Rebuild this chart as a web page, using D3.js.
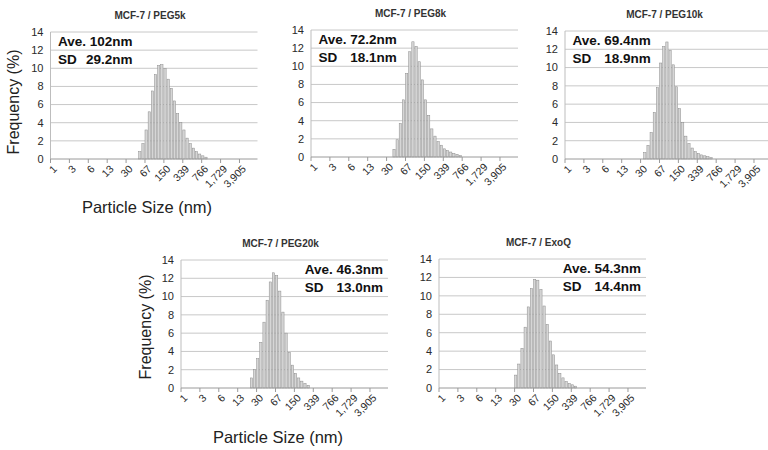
<!DOCTYPE html>
<html>
<head>
<meta charset="utf-8">
<script src="https://cdn.jsdelivr.net/npm/d3@7"></script>
<style>
  body { margin: 0; background: #fff; }
  svg { font-family: Arial, "Liberation Sans", sans-serif; }
</style>
</head>
<body>
<div id="chart"></div>
<script>
// size bins on a log scale, a label every 6th bin
const binCount = 66;
const tickEvery = 6;
const tickLabels = ["1", "3", "6", "13", "30", "67", "150", "339", "766", "1,729", "3,905"];

const titles = ["MCF-7 / PEG5k", "MCF-7 / PEG8k", "MCF-7 / PEG10k", "MCF-7 / PEG20k", "MCF-7 / ExoQ"];
const aveLabels = ["Ave. 102nm", "Ave. 72.2nm", "Ave. 69.4nm", "Ave. 46.3nm", "Ave. 54.3nm"];
const sdLabels = ["29.2nm", "18.1nm", "18.9nm", "13.0nm", "14.4nm"];

// first non-empty bin of each histogram
const firstBin = [28, 26, 25, 22, 24];

const peg5k = [0.8, 1.7, 3.2, 5.2, 7.5, 9.3, 10.3, 10.4, 10.0, 8.8, 7.8, 6.4, 5.0, 4.0, 3.2, 2.3, 1.7, 1.2, 0.8, 0.55, 0.35, 0.2];
const peg8k = [0.85, 1.9, 3.7, 6.3, 9.2, 11.6, 12.7, 12.2, 10.5, 8.5, 6.3, 4.6, 3.1, 2.3, 1.7, 1.3, 0.9, 0.7, 0.55, 0.4, 0.3, 0.15];
const peg10k = [0.7, 1.5, 2.9, 5.1, 7.8, 10.5, 12.3, 12.8, 11.9, 10.3, 7.9, 5.5, 4.0, 2.5, 1.7, 1.2, 0.8, 0.6, 0.45, 0.35, 0.25, 0.15];
const peg20k = [1.1, 2.0, 3.2, 5.0, 7.2, 9.6, 11.6, 12.6, 12.3, 10.6, 8.3, 6.0, 3.9, 2.5, 1.6, 1.1, 0.75, 0.5, 0.3];
const exoQ = [1.4, 2.6, 4.3, 6.6, 8.8, 10.8, 11.8, 11.7, 10.7, 8.9, 6.9, 5.1, 3.6, 2.5, 1.6, 1.1, 0.7, 0.5, 0.35, 0.2];

const series = [peg5k, peg8k, peg10k, peg20k, exoQ];
const yTicks = [0, 2, 4, 6, 8, 10, 12, 14];

// panel placement
const panels = [
  { x0: 50.5, top: 32, bottom: 159, align: "left" },
  { x0: 311, top: 30, bottom: 157, align: "left" },
  { x0: 565, top: 31, bottom: 159, align: "left" },
  { x0: 181, top: 260, bottom: 388, align: "right" },
  { x0: 439, top: 259, bottom: 388, align: "right" },
];
const plotWidth = 207;

const svg = d3.select("#chart").append("svg")
  .attr("width", 768).attr("height", 450);

const bins = d3.range(binCount);

panels.forEach((p, k) => {
  const x = d3.scaleBand().domain(bins).range([p.x0, p.x0 + plotWidth]).paddingInner(0.28);
  const y = d3.scaleLinear().domain([0, 14]).range([p.bottom, p.top]);
  const g = svg.append("g");

  // gridlines
  g.selectAll(".grid").data(yTicks.slice(1)).join("line")
    .attr("x1", p.x0).attr("x2", p.x0 + plotWidth)
    .attr("y1", d => y(d)).attr("y2", d => y(d))
    .attr("stroke", "#c8c8c8").attr("stroke-width", 1);

  // y axis
  g.append("line")
    .attr("x1", p.x0).attr("x2", p.x0)
    .attr("y1", y(14)).attr("y2", y(0))
    .attr("stroke", "#bdbdbd");
  g.selectAll(".ylab").data(yTicks).join("text")
    .attr("x", p.x0 - 7).attr("y", d => y(d))
    .attr("dy", "0.35em")
    .attr("text-anchor", "end")
    .style("font-size", "11px").attr("fill", "#2a2a2a")
    .text(d => d);

  // bars
  const vals = series[k].map((v, i) => ({ bin: firstBin[k] + i, v: v }));
  g.selectAll(".bar").data(vals).join("rect")
    .attr("x", d => x(d.bin))
    .attr("width", x.bandwidth())
    .attr("y", d => y(d.v))
    .attr("height", d => y(0) - y(d.v))
    .attr("fill", "#d6d6d6")
    .attr("stroke", "#8c8c8c").attr("stroke-width", 0.5);

  // x axis
  g.append("line")
    .attr("x1", p.x0).attr("x2", p.x0 + plotWidth)
    .attr("y1", y(0)).attr("y2", y(0))
    .attr("stroke", "#9a9a9a");
  const step = x.step();
  g.selectAll(".tick").data(tickLabels).join("line")
    .attr("x1", (d, i) => p.x0 + i * tickEvery * step)
    .attr("x2", (d, i) => p.x0 + i * tickEvery * step)
    .attr("y1", y(0)).attr("y2", y(0) + 4)
    .attr("stroke", "#9a9a9a");
  g.selectAll(".xlab").data(tickLabels).join("text")
    .attr("transform", (d, i) => {
      const cx = p.x0 + (i * tickEvery + 0.5) * step;
      return `translate(${cx + 3},${y(0) + 8}) rotate(-45)`;
    })
    .attr("dy", "0.35em")
    .attr("text-anchor", "end")
    .style("font-size", "10.5px").attr("fill", "#2a2a2a")
    .text(d => d);

  // title
  g.append("text")
    .attr("x", p.x0 + plotWidth / 2 - 4)
    .attr("y", p.top - 13)
    .attr("text-anchor", "middle")
    .style("font-size", "10px").style("font-weight", "bold")
    .attr("fill", "#333")
    .text(titles[k]);

  // mean / SD annotation
  const ann = g.append("g").style("font-size", "13.5px").style("font-weight", "bold").attr("fill", "#111");
  const ave = ann.append("text").attr("y", p.top + 13.5).text(aveLabels[k]);
  const w = ave.node().getComputedTextLength();
  const left = p.align === "left" ? p.x0 + 7.5 : p.x0 + plotWidth - 5 - w;
  ave.attr("x", left);
  ann.append("text").attr("x", left).attr("y", p.top + 31.5).text("SD");
  ann.append("text").attr("x", left + w).attr("y", p.top + 31.5)
    .attr("text-anchor", "end").text(sdLabels[k]);
});

// axis titles
const axisTitles = [
  { fx: 13, fy: 102, px: 147, py: 213 },
  { fx: 145, fy: 327, px: 278, py: 443 },
];
axisTitles.forEach(a => {
  svg.append("text")
    .attr("transform", `translate(${a.fx},${a.fy}) rotate(-90)`)
    .attr("dy", "0.35em")
    .attr("text-anchor", "middle")
    .style("font-size", "16px").attr("fill", "#222")
    .text("Frequency (%)");
  svg.append("text")
    .attr("x", a.px).attr("y", a.py)
    .attr("text-anchor", "middle")
    .style("font-size", "16.5px").attr("fill", "#222")
    .text("Particle Size (nm)");
});
</script>
</body>
</html>
